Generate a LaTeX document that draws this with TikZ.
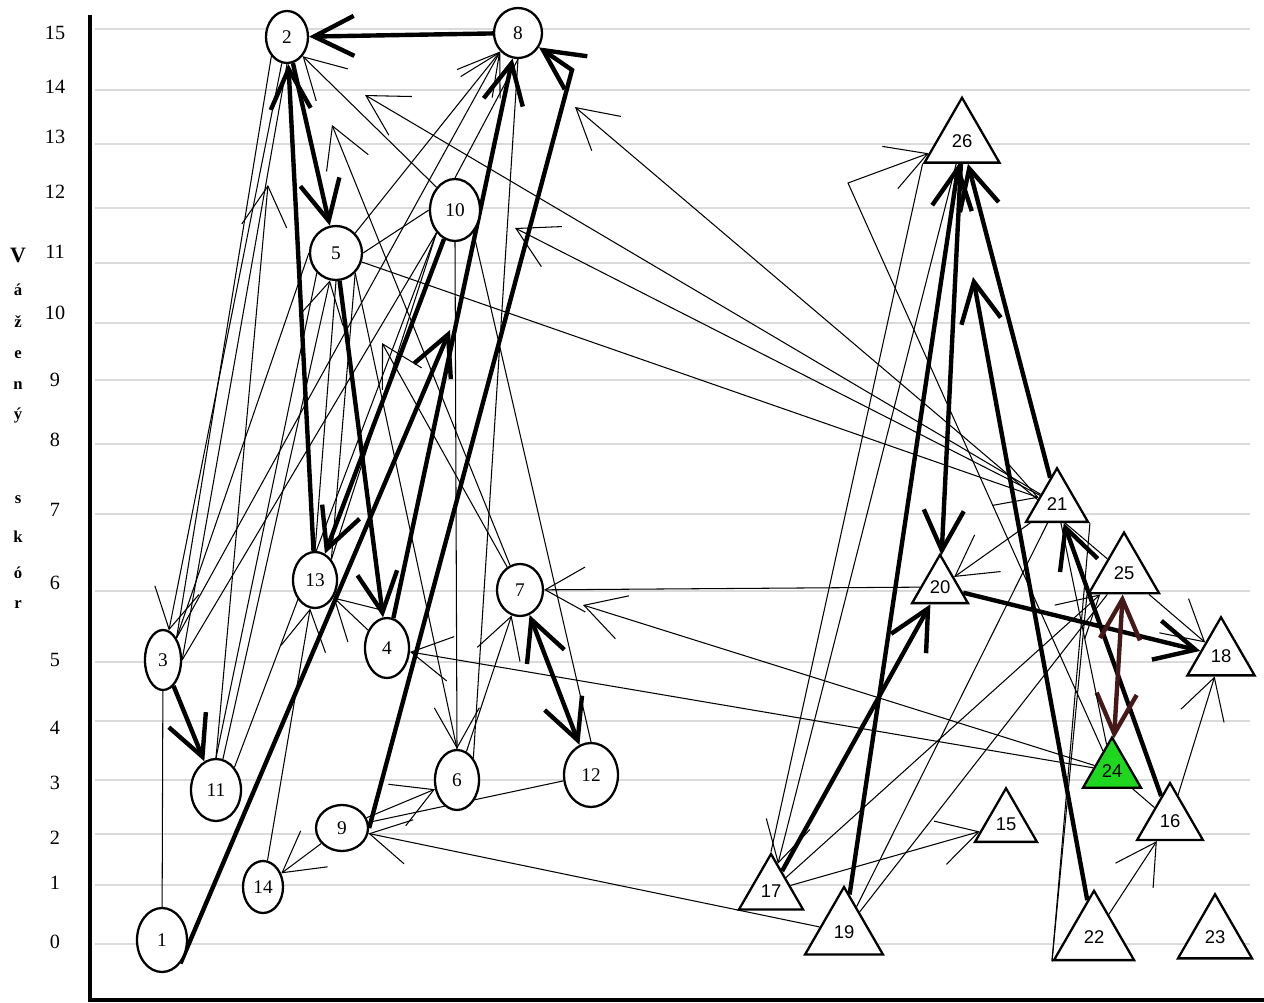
\documentclass[tikz,border=0pt]{standalone}
\usepackage{fontspec}
\setmainfont{Liberation Serif}
\setsansfont{Liberation Sans}
\usetikzlibrary{arrows.meta,shapes.geometric}
\pgfdeclarelayer{gridl}
\pgfdeclarelayer{edges}
\pgfsetlayers{gridl,edges,main}
\definecolor{tgreen}{RGB}{30,215,30}
\definecolor{dkred}{RGB}{70,25,25}
\definecolor{gridc}{RGB}{218,218,218}
\tikzset{
  cnode/.style={ellipse, draw, line width=1.3pt, fill=white, inner sep=0pt, font=\fontsize{11}{12}\selectfont},
  tnode/.style={regular polygon, regular polygon sides=3, draw, line width=1.3pt, fill=white, inner sep=0pt, font=\sffamily\fontsize{10.5}{12}\selectfont},
  thn/.style={line width=0.6pt},
  thk/.style={line width=2.5pt},
  hd/.style={-{Straight Barb[length=0.8cm,width=0.9cm]}},
  hdk/.style={-{Straight Barb[length=0.8cm,width=0.8cm]}},
  hdkk/.style={{Straight Barb[length=0.8cm,width=0.8cm]}-{Straight Barb[length=0.8cm,width=0.8cm]}},
  gridln/.style={draw=gridc, line width=1.1pt},
  axlbl/.style={font=\fontsize{11.5}{12}\selectfont, inner sep=0pt},
  vlbl/.style={font=\bfseries\fontsize{9.5}{10}\selectfont, inner sep=0pt}
}
\begin{document}
\begin{tikzpicture}[x=0.02cm,y=-0.02cm]
\useasboundingbox (0,0) rectangle (1264,1003);
\begin{pgfonlayer}{gridl}
\foreach \yy in {29,90,144,208,263,323,380,444,514,591,662,721,780,834,885,944}
  \draw[gridln] (95,\yy) -- (1250,\yy);
\end{pgfonlayer}
\draw[line width=2.2pt] (90,15) -- (90,1000) -- (1264,1000);
\foreach \v/\yy in {15/33,14/87,13/137,12/192,11/252,10/313,9/380,8/440,7/510,6/583,5/660,4/728,3/783,2/838,1/883,0/942}
  \node[axlbl] (ax\v) at (55,\yy) {\v};
\node[vlbl, font=\bfseries\fontsize{12.5}{13}\selectfont] (vV) at (18,255) {V};
\foreach \c/\yy/\nm in {á/290/a, ž/322/b, e/355/c, n/386/d, ý/416/e, s/500/f, k/537/g, ó/573/h, r/605/i}
  \node[vlbl] (v\nm) at (18,\yy) {\c};

% circle nodes
\node[cnode, minimum width=1.0cm, minimum height=1.28cm] (n1) at (162,940) {1};
\node[cnode, minimum width=0.84cm, minimum height=1.04cm] (n2) at (287,37) {2};
\node[cnode, minimum width=0.72cm, minimum height=1.2cm] (n3) at (163,660) {3};
\node[cnode, minimum width=0.88cm, minimum height=1.2cm] (n4) at (387,648) {4};
\node[cnode, minimum width=1.04cm, minimum height=1.08cm] (n5) at (336,253) {5};
\node[cnode, minimum width=0.88cm, minimum height=1.2cm] (n6) at (457,780) {6};
\node[cnode, minimum width=0.92cm, minimum height=1.04cm] (n7) at (520,590) {7};
\node[cnode, minimum width=0.96cm, minimum height=1.0cm] (n8) at (518,33) {8};
\node[cnode, minimum width=1.04cm, minimum height=0.92cm] (n9) at (342,828) {9};
\node[cnode, minimum width=1.0cm, minimum height=1.24cm] (n10) at (455,210) {10};
\node[cnode, minimum width=1.0cm, minimum height=1.24cm] (n11) at (216,790) {11};
\node[cnode, minimum width=1.08cm, minimum height=1.28cm] (n12) at (591,775) {12};
\node[cnode, minimum width=0.88cm, minimum height=1.12cm] (n13) at (315,580) {13};
\node[cnode, minimum width=0.8cm, minimum height=1.04cm] (n14) at (263,887) {14};

% triangle nodes
\node[tnode, minimum size=1.73cm] (t26) at (962,141) {26};
\node[tnode, minimum size=1.43cm] (t21) at (1057,504) {21};
\node[tnode, minimum size=1.29cm] (t20) at (940,587) {20};
\node[tnode, minimum size=1.62cm] (t25) at (1124,573) {25};
\node[tnode, minimum size=1.55cm] (t18) at (1221,656) {18};
\node[tnode, minimum size=1.34cm, fill=tgreen] (t24) at (1112,771) {24};
\node[tnode, minimum size=1.43cm] (t15) at (1006,824) {15};
\node[tnode, minimum size=1.52cm] (t16) at (1170,821) {16};
\node[tnode, minimum size=1.48cm] (t17) at (771,891) {17};
\node[tnode, minimum size=1.80cm] (t19) at (844,932) {19};
\node[tnode, minimum size=1.85cm] (t22) at (1094,937) {22};
\node[tnode, minimum size=1.71cm] (t23) at (1215,937) {23};

% free ends and bends
\coordinate (c1t) at (450,330);
\coordinate (c98) at (572,70);
\coordinate (c22t) at (973,277);
\coordinate (c7t2) at (332,125);
\coordinate (c7t5) at (382,343);
\coordinate (c21t2) at (365,95);
\coordinate (c21t10) at (515,228);
\coordinate (c25t8) at (575,107);
\coordinate (c24t7) at (583,605);
\coordinate (c11t) at (268,185);
\coordinate (c2426) at (848,183);

\begin{pgfonlayer}{edges}
% thick connectors
\draw[thk,hdk] (n8) -- (n2);
\draw[thk,hdk] (n2) -- (n5);
\draw[thk,hdk] (n13) -- (n2);
\draw[thk,hdk] (n5) -- (n4);
\draw[thk,hdk] (n10) -- (n13);
\draw[thk,hdk] (n1.south east) -- (c1t);
\draw[thk,hdk] (n4) -- (n8);
\draw[thk,hdk] (n9.east) -- (c98) -- (n8);
\draw[thk,hdk] (n3) -- (n11);
\draw[thk,hdkk] (n7) -- (n12);
\draw[thk,hdk] (t19) -- (t26);
\draw[thk,hdk] (t17) -- (t20);
\draw[thk,hdk] (t26) -- (t20);
\draw[thk,hdk] (t22) -- (c22t);
\draw[thk,hdk] (t21) -- (t26);
\draw[thk,hdk] (t16) -- (t21);
\draw[thk,hdk] (t20) -- (t18);
\draw[thk,hdkk,draw=dkred] (t24) -- (t25);

% thin connectors, left group
\draw[thn] (n1) -- (n3);
\draw[thn,hd] (n2) -- (n3);
\draw[thn] (n3.north east) -- (n2.south west);
\draw[thn] (n3.east) -- (n2.south);
\draw[thn] (n3.north east) -- (n5.west);
\draw[thn] (n3.east) -- (n10.south west);
\draw[thn,hd] (n3.north east) -- (n8.south west);
\draw[thn] (n11.north) -- (n5.south west);
\draw[thn,hd] (n11) -- (n5);
\draw[thn] (n11.north east) -- (n10.south west);
\draw[thn,hd] (n11.north) -- (c11t);
\draw[thn] (n13.north) -- (n5.south);
\draw[thn] (n13.north east) -- (n5.south east);
\draw[thn] (n13.north east) -- (n10.south west);
\draw[thn,hd] (n5.north east) -- (n8.south west);
\draw[thn] (n10.north) -- (n8.south);
\draw[thn,hd] (n10.north west) -- (n2.south east);
\draw[thn] (n5.east) -- (n10.west);
\draw[thn] (n5.south east) -- (n6.north);
\draw[thn,hd] (n4) -- (n13);
\draw[thn,hd] (n6) -- (n7);
\draw[thn,hd] (n9) -- (n6);
\draw[thn,hd] (n9) -- (n14);
\draw[thn] (n12) -- (n9);
\draw[thn,hd] (n10.south) -- (n6.north);
\draw[thn] (n6.north east) -- (n8.south);
\draw[thn] (n10.south east) -- (n12.north);
\draw[thn,hd] (n7) -- (c7t5);
\draw[thn,hd] (n7) -- (c7t2);
\draw[thn,hd] (n14) -- (n13);

% thin connectors, right group and across
\draw[thn,hd] (t19) -- (n9);
\draw[thn,hd] (t26) -- (t17);
\draw[thn] (t17.corner 1) -- (t26.corner 2);
\draw[thn,hd] (t24) -- (c2426) -- (t26);
\draw[thn,hd] (t17) -- (t15);
\draw[thn,hd] (t17) -- (t25);
\draw[thn] (t19) -- (t21);
\draw[thn] (t19) -- (t25);
\draw[thn,hd] (t20) -- (n7);
\draw[thn,hd] (t24) -- (c24t7);
\draw[thn,hd] (t24) -- (n4);
\draw[thn,hd] (t21) -- (c21t2);
\draw[thn,hd] (t21) -- (c21t10);
\draw[thn,hd] (n5) -- (t21);
\draw[thn,hd] (t25) -- (c25t8);
\draw[thn,hd] (t25) -- (t18);
\draw[thn,hd] (t22) -- (t16);
\draw[thn] (t22.corner 2) -- (t25.corner 2);
\draw[thn] (t22.corner 2) -- (t21.corner 3);
\draw[thn] (t16) -- (t24);
\draw[thn,hd] (t16) -- (t18);
\draw[thn,hd] (t21) -- (t20);
\draw[thn] (t21) -- (t24);
\end{pgfonlayer}
\end{tikzpicture}
\end{document}
